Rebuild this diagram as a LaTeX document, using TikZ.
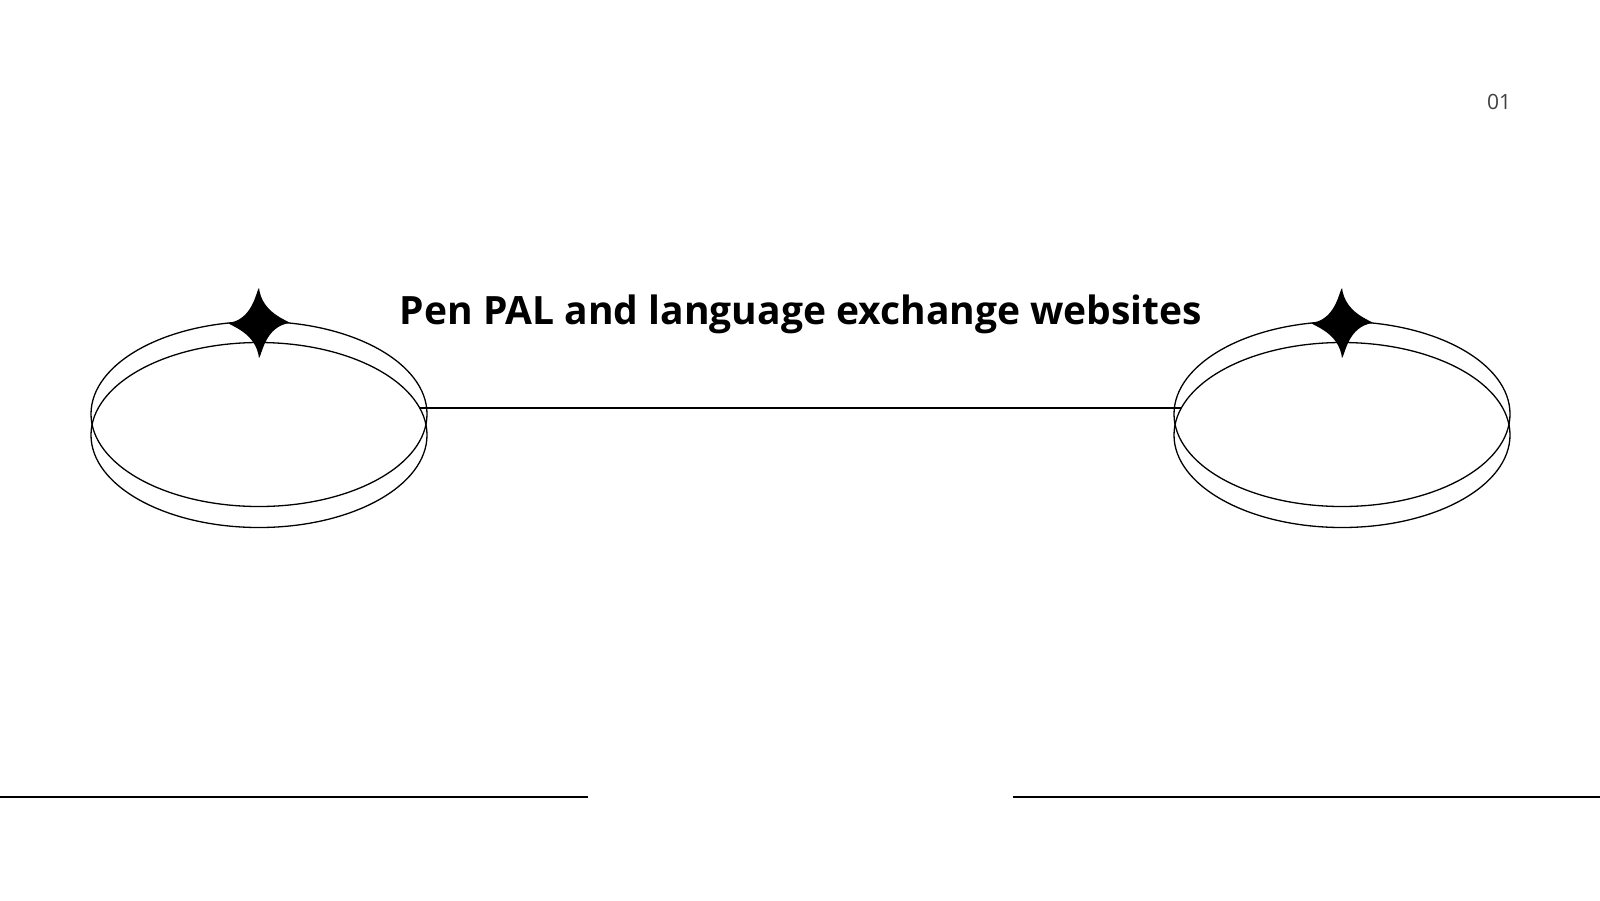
\documentclass[tikz,border=0pt]{standalone}
\usepackage{fontspec}
\setmainfont{Open Sans}
\usetikzlibrary{shapes.geometric}

\tikzset{
  ring/.style={draw, ellipse, inner sep=0pt, minimum width=336pt, minimum height=185pt, line width=1.3pt},
  sparkle/.style={fill=black}
}
\newcommand{\sparkleat}[1]{%
  \fill[sparkle] (#1) ++(0,-35) .. controls +(3,25) and +(-3,-3) .. ++(31,35)
    .. controls +(-25,3) and +(3,-3) .. ++(-31,35)
    .. controls +(-3,-25) and +(3,3) .. ++(-31,-35)
    .. controls +(25,-3) and +(-3,3) .. cycle;}

\begin{document}
\begin{tikzpicture}[x=1pt, y=-1pt]
			\useasboundingbox (0,0) rectangle (1600,900);
			
			% left rings
			\node[ring] (L1) at (259,414) {};
			\node[ring] (L2) at (259,435) {};
			\sparkleat{259,323}
			
			% right rings
			\node[ring] (R1) at (1342,414) {};
			\node[ring] (R2) at (1342,435) {};
			\sparkleat{1342,323}
			
			% link
			\coordinate (a) at (420,408);
			\coordinate (b) at (1181,408);
			\draw[line width=1.3pt] (a) -- (b);
			
			% title
			\node[font=\fontsize{39}{44}\selectfont\bfseries] (title) at (801,314) {Pen PAL and language exchange websites};
			\node[font=\fontsize{21}{24}\selectfont, text=black!75] (page) at (1499,102) {01};
			
			% bottom rules
			\coordinate (p) at (0,797);
			\coordinate (q) at (588,797);
			\coordinate (r) at (1013,797);
			\coordinate (s) at (1600,797);
			\draw[line width=1.3pt] (p) -- (q);
			\draw[line width=1.3pt] (r) -- (s);
		\end{tikzpicture}
\end{document}
